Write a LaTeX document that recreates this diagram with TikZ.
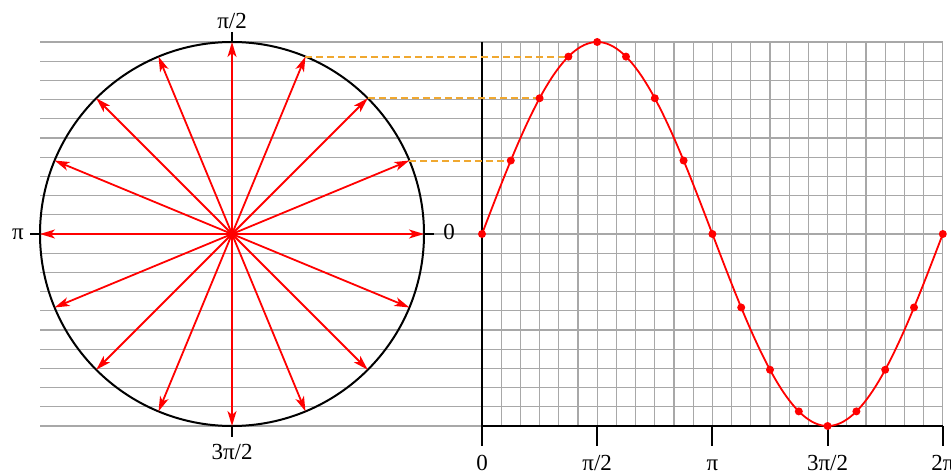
\documentclass[tikz,border=0pt]{standalone}
\usepackage{fontspec}
\setmainfont{Liberation Serif}
\usetikzlibrary{arrows.meta}
\definecolor{gridgray}{HTML}{A8A8A8}
\definecolor{dashorange}{HTML}{F0A830}
\begin{document}
\begin{tikzpicture}[x=1pt,y=-1pt,
  gridline/.style={gridgray, line width=1.2pt},
  spoke/.style={red, line width=1.8pt, -{Stealth[length=15pt,width=9pt,inset=4pt]}},
  axisline/.style={black, line width=2pt},
  ticklabel/.style={font=\fontsize{23}{23}\selectfont, inner sep=0pt, anchor=base},
  guide/.style={dashorange, line width=2pt, dash pattern=on 7pt off 4pt},
  dot/.style={circle, fill=red, inner sep=0pt, minimum size=8pt},
  curve/.style={red, line width=1.8pt},
]
\useasboundingbox (0,0) rectangle (951,476);
% grid
\foreach \k in {0,...,20} \draw[gridline] (40,{42+19.2*\k}) -- (942.8,{42+19.2*\k});
\foreach \k in {1,...,24} \draw[gridline] ({482+19.2*\k},42) -- ({482+19.2*\k},426);
% coordinates
\coordinate (O) at (232,234);
\foreach \k in {0,...,15} \coordinate (C\k) at ({232+192*cos(22.5*\k)},{234-192*sin(22.5*\k)});
\foreach \k in {0,...,16} \coordinate (S\k) at ({482+28.8*\k},{234-192*sin(22.5*\k)});
% circle and ticks
\draw[axisline] (O) circle[radius=192];
\draw[axisline] (232,32) -- (232,42);
\draw[axisline] (232,426) -- (232,437);
\draw[axisline] (30,234) -- (40,234);
\draw[axisline] (424,234) -- (434,234);
\node[ticklabel] (lt) at (232,29) {π/2};
\node[ticklabel] (lb) at (232,459) {3π/2};
\node[ticklabel] (ll) at (18,240) {π};
\node[ticklabel] (lr) at (449,240) {0};
% axes
\draw[axisline] (482,42) -- (482,446);
\draw[axisline] (482,426) -- (942.8,426);
\foreach \k in {1,2,3,4}
  \draw[axisline] ({482+115.2*\k},426) -- ({482+115.2*\k},446);
\node[ticklabel] (x0) at (482,470) {0};
\node[ticklabel] (x1) at (597.2,470) {π/2};
\node[ticklabel] (x2) at (712.4,470) {π};
\node[ticklabel] (x3) at (827.6,470) {3π/2};
\node[ticklabel] (x4) at (942.8,470) {2π};
% guides
\foreach \k in {1,2,3} \draw[guide] (C\k) -- (S\k);
% spokes
\foreach \k in {0,...,15} \draw[spoke] (O) -- (C\k);
% sine
\draw[curve] plot[domain=0:360, samples=145, smooth] ({482+1.28*\x},{234-192*sin(\x)});
\foreach \k in {0,...,16} \node[dot] (D\k) at (S\k) {};
\end{tikzpicture}
\end{document}
